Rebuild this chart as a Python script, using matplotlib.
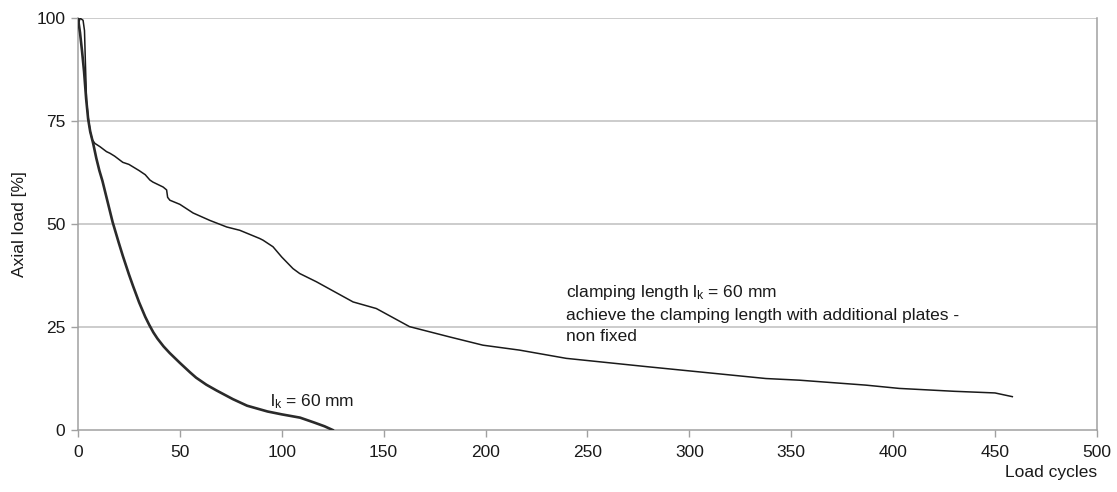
import matplotlib
matplotlib.use("Agg")
import matplotlib.pyplot as plt

plt.rcParams['font.family'] = ['Liberation Sans', 'DejaVu Sans']
plt.rcParams['mathtext.default'] = 'regular'

# Series: l_k = 60 mm (thick curve)
cycles_a = [0, 1.0, 2.0, 3.0, 4.0, 5.0, 6.0, 7.5, 9.0, 10.5, 12.0, 14.0, 17.0, 20.0,
            22.0, 25.0, 27.0, 30.0, 33.0, 35.0, 37.0, 39.0, 42.0, 45.0, 50.0, 55.0,
            58.0, 63.0, 68.0, 76.0, 83.0, 93.0, 100.0, 109.0, 116.0, 121.0, 125.0]
load_a = [100, 96.5, 92, 87, 80.5, 75.5, 72.5, 69.5, 66, 63, 60.5, 56.5, 50.5, 45.5,
          42.3, 37.8, 35, 31, 27.5, 25.5, 23.7, 22.2, 20.3, 18.7, 16.3, 14.0,
          12.7, 11.0, 9.6, 7.5, 5.9, 4.5, 3.8, 3.0, 1.8, 0.9, 0]

# Series: clamping length with additional plates - non fixed (thin curve)
cycles_b = [0, 1.0, 2.5, 3.2, 3.6, 4.2, 5.0, 6.0, 7.0, 8.3, 10.8, 14.0, 15.7, 18.0,
            22.0, 25.0, 30.0, 33.0, 35.3, 36.8, 41.8, 43.5, 44.0, 45.1, 50.0, 56.5,
            64.7, 73.0, 79.4, 84.3, 89.2, 90.8, 95.7, 100.0, 105.5, 108.8, 117.0,
            135.0, 146.4, 162.7, 182.4, 198.7, 216.7, 239.6, 278.8, 337.6, 354.0,
            386.6, 403.0, 430.0, 450.0, 458.5]
load_b = [98, 100, 99.5, 97, 90, 80, 76, 72.5, 70.5, 69.6, 68.8, 67.6, 67.2, 66.5,
          65, 64.5, 63, 62, 60.7, 60.2, 59, 58.3, 56.5, 55.8, 54.8, 52.7,
          50.9, 49.3, 48.5, 47.5, 46.5, 46.1, 44.5, 42.0, 39.2, 38, 36,
          31.1, 29.5, 25.1, 22.6, 20.6, 19.4, 17.4, 15.4, 12.5, 12.1,
          10.9, 10.1, 9.4, 9.0, 8.1]

x_ticks = [0, 50, 100, 150, 200, 250, 300, 350, 400, 450, 500]
y_ticks = [0, 25, 50, 75, 100]

fig = plt.figure(figsize=(11.17, 4.92), dpi=100)
ax = fig.add_axes([0.0698, 0.126, 0.9122, 0.837])

grid_c = '#c8c8c8'
spine_c = '#a0a0a0'

ax.plot(cycles_b, load_b, color='#1a1a1a', lw=1.1, zorder=3)
ax.plot(cycles_a, load_a, color='#2a2a2a', lw=1.9, zorder=3)

ax.set_xlim(0, 500)
ax.set_ylim(0, 100)
ax.set_xticks(x_ticks)
ax.set_yticks(y_ticks)
ax.set_xticklabels([str(v) for v in x_ticks])
ax.set_yticklabels([str(v) for v in y_ticks])

for y in y_ticks[1:]:
    ax.axhline(y, color=grid_c, lw=1.3, zorder=1)

for s in ['left', 'bottom', 'right']:
    ax.spines[s].set_color(spine_c)
    ax.spines[s].set_linewidth(1.1)
ax.spines['top'].set_visible(False)

ax.tick_params(axis='both', colors=spine_c, labelcolor='#1a1a1a', labelsize=12.5,
               length=5, width=1.0, direction='out')
ax.tick_params(axis='x', pad=6)
ax.tick_params(axis='y', pad=4)

ax.set_ylabel('Axial load [%]', fontsize=12.5, color='#1a1a1a', labelpad=7)
fig.text(0.982, 0.040, 'Load cycles', fontsize=12.5, color='#1a1a1a',
         ha='right', va='center')

ax.text(94, 6.8, 'l$_k$ = 60 mm', fontsize=12.5, color='#1a1a1a',
        ha='left', va='center')
ax.text(239.5, 35.7,
        'clamping length l$_k$ = 60 mm\nachieve the clamping length with additional plates -\nnon fixed',
        fontsize=12.5, color='#1a1a1a', ha='left', va='top', linespacing=1.5)

fig.savefig('out.png', dpi=100)
